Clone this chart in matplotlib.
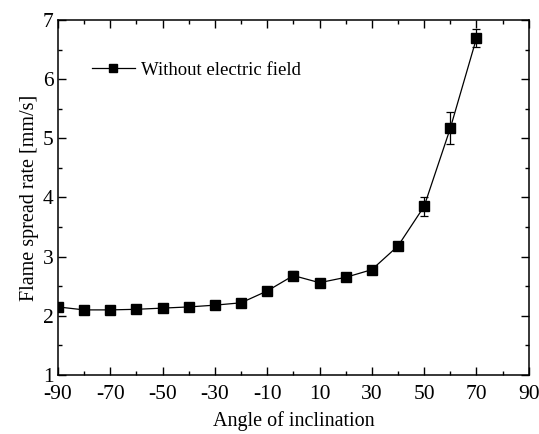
from matplotlib import pyplot as plt
from matplotlib.ticker import MultipleLocator
import numpy as np

# data
angle = [-90, -80, -70, -60, -50, -40, -30, -20, -10, 0, 10, 20, 30, 40, 50, 60, 70]
rate = [2.15, 2.10, 2.10, 2.11, 2.13, 2.15, 2.18, 2.22, 2.42, 2.68, 2.56, 2.65, 2.78, 3.18, 3.85, 5.17, 6.69]
err = [0, 0, 0, 0, 0, 0, 0, 0, 0, 0.08, 0, 0, 0, 0, 0.16, 0.27, 0.15]
xticks = [-90, -70, -50, -30, -10, 10, 30, 50, 70, 90]

plt.rcParams['font.family'] = ['Liberation Serif', 'DejaVu Serif']
plt.rcParams['axes.unicode_minus'] = False

fig = plt.figure(figsize=(5.39, 4.34), dpi=100)
ax = fig.add_axes([0.1076, 0.136, 0.981 - 0.1076, 0.954 - 0.136])

ax.errorbar(angle, rate, yerr=err, color='black', lw=0.9, fmt='none',
            capsize=3, elinewidth=0.9, capthick=0.9)
ax.plot(angle, rate, color='black', lw=0.9, marker='s', markersize=6.5,
        label='Without electric field')

ax.set_xlim(-90, 90)
ax.set_ylim(1, 7)
ax.set_xticks(xticks)
ax.xaxis.set_minor_locator(MultipleLocator(10))
ax.yaxis.set_major_locator(MultipleLocator(1))
ax.yaxis.set_minor_locator(MultipleLocator(0.5))
ax.tick_params(which='both', direction='in', top=True, right=True, labelsize=15.5, width=1)
ax.tick_params(which='major', length=6)
ax.tick_params(which='minor', length=3)
ax.tick_params(axis='x', pad=7.5)
ax.tick_params(axis='y', pad=3)
for s in ax.spines.values():
    s.set_linewidth(1.1)

ax.set_xlabel('Angle of inclination', fontsize=14.5, labelpad=5)
ax.set_ylabel('Flame spread rate [mm/s]', fontsize=14.5, labelpad=3)

ax.legend(loc='center left', bbox_to_anchor=(0.072, 0.859), frameon=False, fontsize=13.5,
          handlelength=2.3, handletextpad=0.3, borderpad=0, borderaxespad=0, markerscale=0.85)

fig.savefig('out.png', dpi=100)
